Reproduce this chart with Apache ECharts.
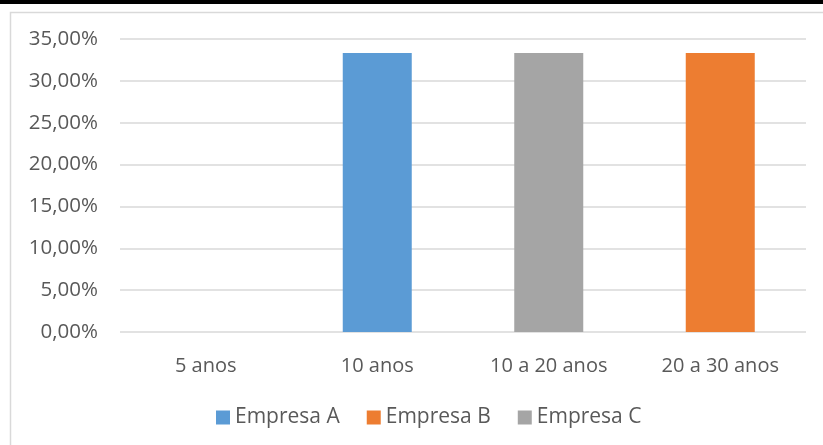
<!DOCTYPE html>
<html>
<head>
    <meta charset="utf-8">
    <title>Empresas por tempo</title>
    <script src="https://cdn.jsdelivr.net/npm/echarts@6.0.0/dist/echarts.min.js"></script>
    <style>
        html, body { margin: 0; padding: 0; background: #fff; }
        #chart { width: 823px; height: 445px; }
    </style>
</head>
<body>
<div id="chart"></div>
<script>
    // dados
    var categorias = ['5 anos', '10 anos', '10 a 20 anos', '20 a 30 anos'];
    var empresaA = [null, 33.33, null, null];
    var empresaB = [null, null, null, 33.33];
    var empresaC = [null, null, 33.33, null];
    var nomes = ['Empresa A', 'Empresa B', 'Empresa C'];
    var cores = ['#5B9BD5', '#ED7D31', '#A5A5A5'];

    var chart = echarts.init(document.getElementById('chart'));
    var fonte = '"Open Sans", sans-serif';

    function serie(nome, dados, cor) {
        return {
            name: nome,
            type: 'bar',
            stack: 'total',
            barWidth: 69,
            data: dados,
            itemStyle: { color: cor }
        };
    }

    chart.setOption({
        animation: false,
        textStyle: { fontFamily: fonte },
        graphic: [
            { type: 'rect', left: 0, top: 0, shape: { width: 823, height: 4 }, style: { fill: '#000' } },
            { type: 'rect', left: 8, top: 10, shape: { width: 830, height: 450 },
              style: { fill: 'none', stroke: '#d9d9d9', lineWidth: 1.5 } }
        ],
        grid: { left: 120, right: 17, top: 39, bottom: 113 },
        legend: {
            bottom: 12,
            left: 211,
            itemWidth: 14,
            itemHeight: 14,
            itemGap: 27,
            icon: 'rect',
            textStyle: { fontSize: 21, color: '#595959', fontFamily: fonte },
            data: nomes
        },
        xAxis: {
            type: 'category',
            data: categorias,
            axisLine: { show: false },
            axisTick: { show: false },
            axisLabel: { fontSize: 20, color: '#595959', margin: 24, fontFamily: fonte }
        },
        yAxis: {
            type: 'value',
            min: 0,
            max: 35,
            interval: 5,
            axisLine: { show: false },
            axisTick: { show: false },
            splitLine: { lineStyle: { color: '#d9d9d9', width: 1.5 } },
            axisLabel: {
                fontSize: 20.5, color: '#595959', margin: 22, fontFamily: fonte,
                formatter: function (v) { return v.toFixed(2).replace('.', ',') + '%'; }
            }
        },
        series: [
            serie(nomes[0], empresaA, cores[0]),
            serie(nomes[1], empresaB, cores[1]),
            serie(nomes[2], empresaC, cores[2])
        ]
    });
</script>
</body>
</html>
